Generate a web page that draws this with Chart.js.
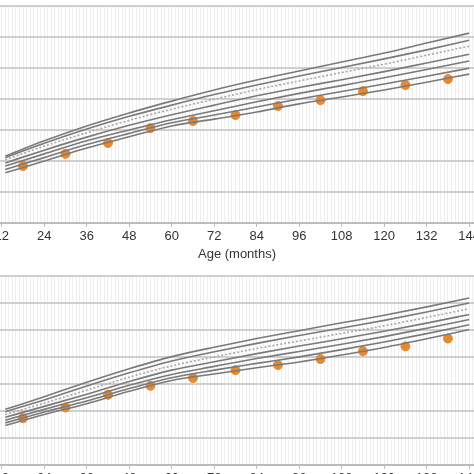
<!DOCTYPE html>
<html><head><meta charset="utf-8">
<script src="https://cdn.jsdelivr.net/npm/chart.js@4"></script>
<style>
html,body{margin:0;padding:0;width:474px;height:474px;overflow:hidden;background:#fff;position:relative}
canvas{position:absolute}
</style></head><body>
<div id="w1" style="position:absolute;left:-40px;top:0;width:554px;height:262px"><canvas id="c1"></canvas></div>
<div id="w2" style="position:absolute;left:-40px;top:270px;width:554px;height:234px"><canvas id="c2"></canvas></div>
<script>
const curveAges = [13, 24, 36, 48, 60, 72, 84, 96, 108, 120, 132, 144];
const xTicks = [12, 24, 36, 48, 60, 72, 84, 96, 108, 120, 132, 144];
const pointAges = [18, 30, 42, 54, 66, 78, 90, 102, 114, 126, 138];

// top panel
const topCurves = [
  [21.5, 26.4, 31.2, 35.4, 39.2, 42.8, 46.0, 48.9, 51.8, 54.7, 57.9, 61.1],
  [21.0, 25.6, 30.2, 34.3, 37.9, 41.3, 44.4, 47.3, 50.0, 52.8, 55.7, 58.8],
  [20.3, 24.7, 29.0, 33.0, 36.6, 39.8, 42.9, 45.7, 48.4, 51.1, 54.0, 56.9],
  [19.3, 23.4, 27.6, 31.4, 34.8, 37.9, 40.9, 43.6, 46.1, 48.7, 51.5, 54.3],
  [18.3, 22.2, 26.4, 29.9, 33.2, 36.1, 39.0, 41.7, 44.2, 46.7, 49.4, 52.1],
  [17.2, 21.0, 25.2, 28.8, 32.2, 34.7, 37.3, 39.9, 42.3, 44.7, 47.2, 49.8],
  [16.1, 19.9, 24.1, 27.7, 31.2, 33.4, 35.7, 38.3, 40.5, 42.8, 45.3, 47.9]
];
const topPoints = [18.3, 22.2, 25.7, 30.5, 32.8, 34.7, 37.6, 39.5, 42.4, 44.4, 46.3];

// bottom panel
const bottomCurves = [
  [20.5, 25.2, 30.5, 35.5, 40.0, 43.5, 46.7, 49.6, 52.5, 55.3, 58.4, 61.7],
  [19.6, 24.0, 29.1, 34.0, 38.4, 41.8, 44.9, 47.8, 50.6, 53.4, 56.5, 59.8],
  [18.6, 22.8, 27.6, 32.4, 36.6, 39.9, 43.0, 45.8, 48.6, 51.4, 54.5, 57.7],
  [17.6, 21.6, 26.1, 30.8, 35.0, 38.1, 41.1, 43.9, 46.6, 49.4, 52.4, 55.6],
  [16.5, 20.5, 24.8, 29.4, 33.4, 36.4, 39.3, 41.9, 44.6, 47.4, 50.5, 53.7],
  [15.5, 19.5, 23.6, 28.2, 32.2, 35.0, 37.5, 39.9, 42.6, 45.4, 48.5, 51.8],
  [14.5, 18.6, 22.6, 27.2, 31.2, 33.6, 35.9, 38.0, 40.6, 43.4, 46.6, 50.0]
];
const bottomPoints = [17.2, 21.2, 25.9, 29.2, 32.1, 35.0, 36.9, 39.1, 42.0, 43.8, 46.7];

const dottedIndex = 2;
const xMin = 1.76, xMax = 155.1;

function makeChart(id, curves, points, padTop) {
  const datasets = curves.map((c, i) => ({
    type: 'line',
    data: curveAges.map((a, k) => ({x: a, y: c[k]})),
    borderColor: i === dottedIndex ? '#a8a8a8' : '#7a7a7a',
    borderWidth: 1.6,
    borderDash: i === dottedIndex ? [2, 2] : [],
    pointRadius: 0,
    cubicInterpolationMode: 'monotone'
  }));
  datasets.push({
    type: 'scatter',
    data: pointAges.map((a, k) => ({x: a, y: points[k]})),
    backgroundColor: '#e8892f',
    borderColor: '#e8892f',
    pointRadius: 4.5
  });
  return new Chart(document.getElementById(id), {
    type: 'line',
    data: {datasets},
    options: {
      responsive: true, maintainAspectRatio: false, animation: false,
      layout: {padding: {top: padTop, left: 0, right: 0}},
      plugins: {legend: {display: false}, tooltip: {enabled: false}},
      scales: {
        x: {
          type: 'linear', min: xMin, max: xMax,
          afterBuildTicks: ax => { ax.ticks = xTicks.map(v => ({value: v})); },
          ticks: {autoSkip: false, maxRotation: 0, color: '#333', font: {family: 'Liberation Sans', size: 13}, padding: 2},
          grid: {color: '#bbb', drawOnChartArea: false, tickLength: 4},
          border: {color: '#bbb', width: 2},
          title: {display: true, text: 'Age (months)', color: '#333', font: {family: 'Liberation Sans', size: 13}, padding: 0}
        },
        xm: {
          type: 'linear', position: 'bottom', display: true, min: xMin, max: xMax,
          afterBuildTicks: ax => { const t = []; for (let v = 2; v <= 155; v++) t.push({value: v}); ax.ticks = t; },
          ticks: {display: false},
          grid: {color: '#eee', lineWidth: 1, tickLength: 0},
          border: {display: false},
          afterFit: ax => { ax.height = 0; }
        },
        y: {
          min: 0, max: 70,
          ticks: {display: false, stepSize: 10},
          grid: {color: '#cfcfcf', lineWidth: 2, drawTicks: false},
          border: {display: false},
          afterFit: ax => { ax.width = 0; }
        }
      }
    }
  });
}

makeChart('c1', topCurves, topPoints, 4);
makeChart('c2', bottomCurves, bottomPoints, 3);
</script>
</body></html>
